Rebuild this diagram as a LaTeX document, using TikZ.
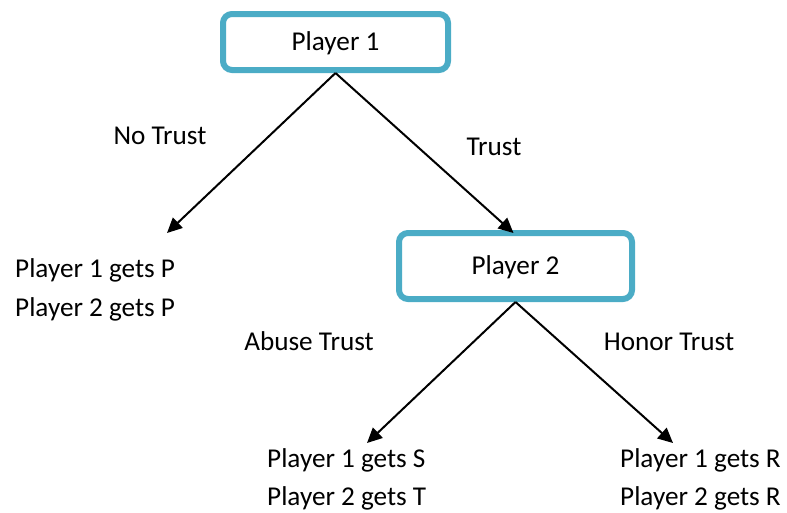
\documentclass[tikz,border=0pt]{standalone}
\usepackage{fontspec}
\setmainfont{Carlito}
\usetikzlibrary{arrows.meta}
\definecolor{boxblue}{HTML}{4BACC6}
\tikzset{
  player/.style={draw=boxblue, line width=6pt, rounded corners=9pt, fill=white,
    inner sep=0pt},
  lbl/.style={inner sep=0pt, font=\fontsize{27.2}{32}\selectfont},
  move/.style={line width=2pt, -{Triangle[length=15pt,width=14pt]}}
}
\begin{document}
\begin{tikzpicture}[x=1pt,y=-1pt]
  \useasboundingbox (0,0) rectangle (787,512);
  % decision nodes
  \node[player, minimum width=225pt, minimum height=56pt] (b1) at (335.5,42) {};
  \node[lbl, anchor=base] (b1t) at (335.5,50) {Player 1};
  \node[player, minimum width=233pt, minimum height=66pt] (b2) at (515.5,266) {};
  \node[lbl, anchor=base] (b2t) at (515.5,274) {Player 2};
  % branch labels
  \node[lbl, anchor=base] (nt) at (160,144) {No Trust};
  \node[lbl, anchor=base] (tr) at (494,155) {Trust};
  \node[lbl, anchor=base] (ab) at (309,350) {Abuse Trust};
  \node[lbl, anchor=base] (ho) at (669,350) {Honor Trust};
  % payoffs
  \node[lbl, anchor=base west] (p1p) at (15,277) {Player 1 gets P};
  \node[lbl, anchor=base west] (p2p) at (15,316) {Player 2 gets P};
  \node[lbl, anchor=base west] (p1s) at (267,467) {Player 1 gets S};
  \node[lbl, anchor=base west] (p2t) at (267,505) {Player 2 gets T};
  \node[lbl, anchor=base west] (p1r) at (620,467) {Player 1 gets R};
  \node[lbl, anchor=base west] (p2r) at (620,505) {Player 2 gets R};
  % arrow tips
  \coordinate (tl) at (167,233);
  \coordinate (tsl) at (367,443);
  \coordinate (tsr) at (673,443);
  % moves
  \draw[move] (b1.south) -- (tl);
  \draw[move] (b1.south) -- ([xshift=-2pt,yshift=-3pt]b2.north);
  \draw[move] (b2.south) -- (tsl);
  \draw[move] (b2.south) -- (tsr);
\end{tikzpicture}
\end{document}
